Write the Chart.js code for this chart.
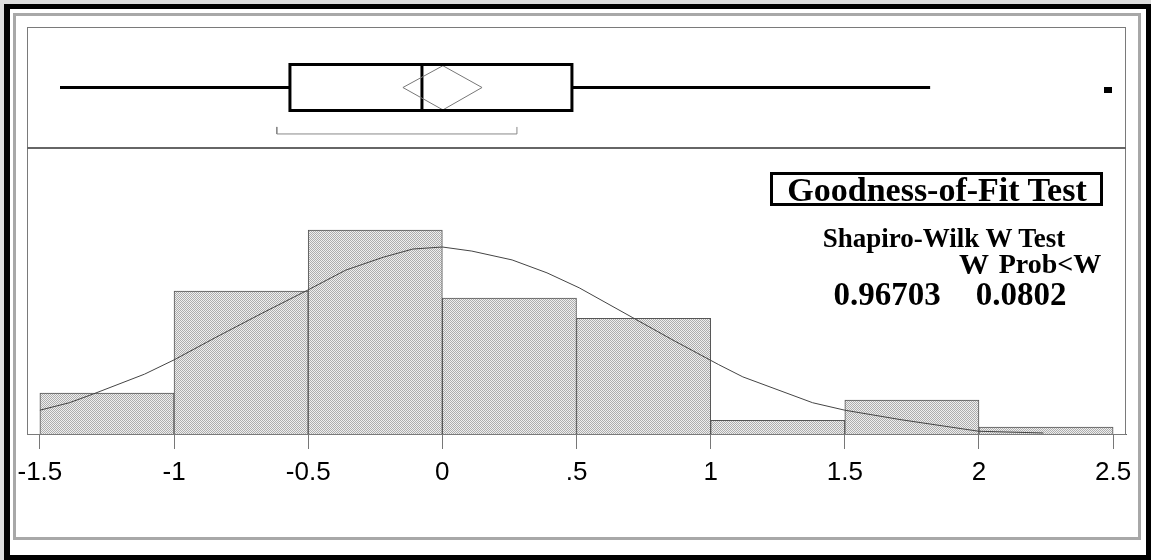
<!DOCTYPE html>
<html><head><meta charset="utf-8">
<script src="https://cdn.jsdelivr.net/npm/chart.js@4.4.1/dist/chart.umd.min.js"></script>
<style>
html,body{margin:0;padding:0;background:#fff;}
#wrap{position:relative;width:1151px;height:560px;overflow:hidden;background:#dcdcdc;}
#outer{position:absolute;left:4px;top:4px;width:1147px;height:556px;box-sizing:border-box;border:5px solid #000;border-left-width:6px;background:#fff;}
#inner{position:absolute;left:13px;top:13px;width:1128px;height:527px;box-sizing:border-box;border:3px solid #a8a8a8;}
canvas{position:absolute;left:0;top:0;}
.t{position:absolute;font-family:'Liberation Serif','Times New Roman',serif;font-weight:bold;color:#000;white-space:nowrap;line-height:1;transform:translate(-50%,-50%);}
#gbox{position:absolute;left:770px;top:172px;width:333px;height:34px;box-sizing:border-box;border:3px solid #000;}
</style></head>
<body>
<div id="wrap">
<div id="outer"></div>
<div id="inner"></div>
<canvas id="c" width="1151" height="560"></canvas>
<div id="gbox"></div>
<div class="t" style="left:937px;top:190px;font-size:34px;">Goodness-of-Fit Test</div>
<div class="t" style="left:944px;top:238px;font-size:27px;">Shapiro-Wilk W Test</div>
<div class="t" style="left:974px;top:264px;font-size:30px;">W</div>
<div class="t" style="left:1050px;top:264px;font-size:28px;">Prob&lt;W</div>
<div class="t" style="left:887px;top:294px;font-size:33px;">0.96703</div>
<div class="t" style="left:1021px;top:294px;font-size:33px;">0.0802</div>
</div>
<script>
// ---- data ----
const binEdges = [-1.5, -1, -0.5, 0, 0.5, 1, 1.5, 2, 2.5];
const binCounts = [6, 21, 30, 20, 17, 2, 5, 1];
const curveX = [-1.50,-1.39,-1.30,-1.11,-1.00,-0.84,-0.67,-0.50,-0.36,-0.22,-0.11,0.00,0.11,0.26,0.39,0.51,0.71,0.86,1.03,1.12,1.38,1.50,1.71,2.00,2.24];
const curveY = [3.5,4.6,5.9,8.8,10.9,14.3,17.8,21.2,24.1,26.0,27.2,27.5,26.9,25.6,23.7,21.5,17.1,13.8,10.2,8.4,4.6,3.5,2.1,0.4,0.15];
// whisker low, Q1, median, Q3, whisker high
const boxQuantiles = [-1.425, -0.568, -0.076, 0.483, 1.818];
// CI low, mean, CI high
const meanDiamond = [-0.147, 0.002, 0.148];
const shortestHalf = [-0.617, 0.278];
const outliers = [2.48];
const tickValues = [-1.5, -1, -0.5, 0, 0.5, 1, 1.5, 2, 2.5];
const tickLabels = ['-1.5', '-1', '-0.5', '0', '.5', '1', '1.5', '2', '2.5'];

// ---- layout (vertical positions within the box-plot band, 0..1) ----
const BOX = {mid: 0.5, lo: 0.31, hi: 0.69, dLo: 0.315, dHi: 0.68, brTop: 0.174, brLine: 0.116, outY: 0.48};

const canvas = document.getElementById('c');
const ctx = canvas.getContext('2d');
const pc = document.createElement('canvas'); pc.width = 2; pc.height = 2;
const p = pc.getContext('2d');
p.fillStyle = '#efefef'; p.fillRect(0, 0, 2, 2);
p.fillStyle = '#adadad'; p.fillRect(0, 0, 1, 1); p.fillRect(1, 1, 1, 1);
const pattern = ctx.createPattern(pc, 'repeat');

const outImg = document.createElement('canvas'); outImg.width = 8; outImg.height = 6;
outImg.getContext('2d').fillRect(0, 0, 8, 6);

const barData = binCounts.map((c, i) => ({x: (binEdges[i] + binEdges[i + 1]) / 2, y: c}));
const curveData = curveX.map((x, i) => ({x, y: curveY[i]}));
const [wLo, q1, med, q3, wHi] = boxQuantiles;
const [ciLo, mean, ciHi] = meanDiamond;

function lineDs(data, color, width) {
  return {type: 'line', data, yAxisID: 'yBox', borderColor: color, borderWidth: width,
    pointRadius: 0, fill: false, tension: 0, borderJoinStyle: 'miter', order: 0};
}

const framePlugin = {
  id: 'frame',
  afterDraw(chart) {
    const a = chart.chartArea, c = chart.ctx, yb = chart.scales.yBox;
    c.save();
    c.strokeStyle = '#7a7a7a'; c.lineWidth = 1;
    c.strokeRect(a.left + 0.5, a.top + 0.5, a.right - a.left - 1, a.bottom - a.top);
    c.strokeStyle = '#666'; c.lineWidth = 2;
    c.beginPath(); c.moveTo(a.left, yb.bottom); c.lineTo(a.right, yb.bottom); c.stroke();
    c.restore();
  }
};

new Chart(ctx, {
  type: 'bar',
  data: {
    datasets: [
      {type: 'bar', data: barData, yAxisID: 'y', backgroundColor: pattern, borderColor: '#555',
        borderWidth: 1, barPercentage: 1, categoryPercentage: 1, order: 2},
      {type: 'line', data: curveData, yAxisID: 'y', borderColor: '#444', borderWidth: 1,
        pointRadius: 0, tension: 0, fill: false, order: 1},
      lineDs([{x: wLo, y: BOX.mid}, {x: q1, y: BOX.mid}], '#000', 3),
      lineDs([{x: q3, y: BOX.mid}, {x: wHi, y: BOX.mid}], '#000', 3),
      lineDs([{x: q1, y: BOX.mid}, {x: q1, y: BOX.lo}, {x: q3, y: BOX.lo}, {x: q3, y: BOX.hi}, {x: q1, y: BOX.hi}, {x: q1, y: BOX.mid}], '#000', 3),
      lineDs([{x: ciLo, y: BOX.mid}, {x: mean, y: BOX.dHi}, {x: ciHi, y: BOX.mid}, {x: mean, y: BOX.dLo}, {x: ciLo, y: BOX.mid}], '#777', 1),
      lineDs([{x: med, y: BOX.lo}, {x: med, y: BOX.hi}], '#000', 3),
      lineDs([{x: shortestHalf[0], y: BOX.brTop}, {x: shortestHalf[0], y: BOX.brLine}, {x: shortestHalf[1], y: BOX.brLine}, {x: shortestHalf[1], y: BOX.brTop}], '#888', 1),
      {type: 'scatter', data: outliers.map(v => ({x: v, y: BOX.outY})), yAxisID: 'yBox',
        pointStyle: outImg, pointRadius: 4, backgroundColor: '#000', borderWidth: 0, order: 0}
    ]
  },
  options: {
    responsive: false,
    animation: false,
    events: [],
    layout: {padding: {left: 27, top: 27, right: 25, bottom: 0}},
    plugins: {legend: {display: false}, tooltip: {enabled: false}},
    scales: {
      x: {
        type: 'linear', position: 'bottom', min: -1.548, max: 2.548, offset: false,
        grid: {display: true, drawOnChartArea: false, drawTicks: true, tickLength: 15, color: '#777', offset: false},
        border: {display: true, color: '#666', width: 1},
        ticks: {font: {family: "'Liberation Sans', Arial, sans-serif", size: 26}, color: '#000', padding: 8,
          maxRotation: 0, autoSkip: false, callback: (v) => tickLabels[tickValues.indexOf(v)]},
        afterBuildTicks: s => { s.ticks = tickValues.map(v => ({value: v})); },
        afterFit: s => { s.height = 126; }
      },
      y: {
        type: 'linear', position: 'left', min: 0, max: 42.06, stack: 'v', stackWeight: 286, weight: 1,
        grid: {display: false, drawTicks: false}, border: {display: false}, ticks: {display: false}
      },
      yBox: {
        type: 'linear', position: 'left', min: 0, max: 1, stack: 'v', stackWeight: 121, weight: 2,
        grid: {display: false, drawTicks: false}, border: {display: false}, ticks: {display: false}
      }
    }
  },
  plugins: [framePlugin]
});
</script>
</body></html>
